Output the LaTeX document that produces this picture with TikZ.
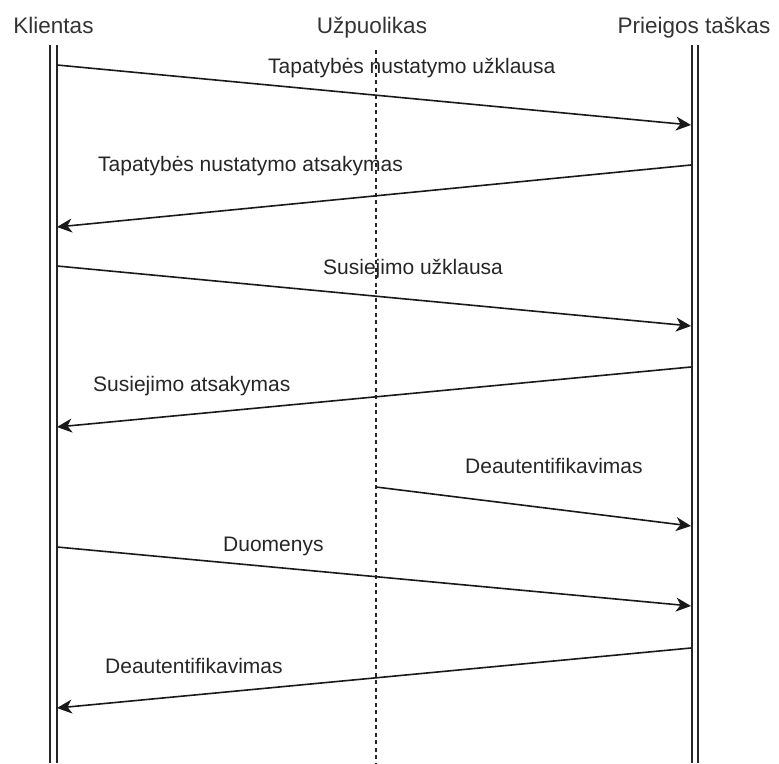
\documentclass[tikz,border=0pt]{standalone}
\usepackage{fontspec}
\setmainfont{Liberation Sans}
\usetikzlibrary{arrows.meta}
\begin{document}
\begin{tikzpicture}[x=1pt,y=-1pt,
  lifeline/.style={line width=1.4pt, black!85},
  attacker/.style={line width=1.2pt, black!85, dash pattern=on 4pt off 3.5pt},
  msg/.style={line width=1.6pt, black!90, -{Stealth[length=15pt,width=14pt,inset=4.5pt]}},
  head/.style={font=\fontsize{22.5}{26}\selectfont, anchor=base, inner sep=0pt, text=black!80},
  lbl/.style={font=\fontsize{21}{25}\selectfont, anchor=base west, inner sep=0pt, text=black!85}]
\useasboundingbox (0,0) rectangle (779,763);

% participants
\node[head] (klientas) at (53.5,33) {Klientas};
\node[head] (uzpuolikas) at (372,33) {Užpuolikas};
\node[head] (ap) at (694,33) {Prieigos taškas};

% lifelines: double lines for client and access point, dashed for attacker
\draw[lifeline] (50,45) -- (50,763);
\draw[lifeline] (57,45) -- (57,763);
\draw[lifeline] (692,45) -- (692,763);
\draw[lifeline] (698,45) -- (698,763);
\draw[attacker] (376,50) -- (376,763);

% message end points
\coordinate (k1) at (57,65);   \coordinate (p1) at (691,125);
\coordinate (p2) at (691,165); \coordinate (k2) at (57,227);
\coordinate (k3) at (57,266);  \coordinate (p3) at (691,326);
\coordinate (p4) at (691,367); \coordinate (k4) at (57,427);
\coordinate (u5) at (376,487); \coordinate (p5) at (691,526);
\coordinate (k6) at (57,547);  \coordinate (p6) at (691,606);
\coordinate (p7) at (691,648); \coordinate (k7) at (57,708);

% messages
\draw[msg] (k1) -- (p1);
\draw[msg] (p2) -- (k2);
\draw[msg] (k3) -- (p3);
\draw[msg] (p4) -- (k4);
\draw[msg] (u5) -- (p5);
\draw[msg] (k6) -- (p6);
\draw[msg] (p7) -- (k7);

% message labels
\node[lbl] (l1) at (268,73) {Tapatybės nustatymo užklausa};
\node[lbl] (l2) at (98,171) {Tapatybės nustatymo atsakymas};
\node[lbl] (l3) at (323,274) {Susiejimo užklausa};
\node[lbl] (l4) at (93,391) {Susiejimo atsakymas};
\node[lbl] (l5) at (465,473) {Deautentifikavimas};
\node[lbl] (l6) at (223,551) {Duomenys};
\node[lbl] (l7) at (105,673) {Deautentifikavimas};
\end{tikzpicture}
\end{document}
